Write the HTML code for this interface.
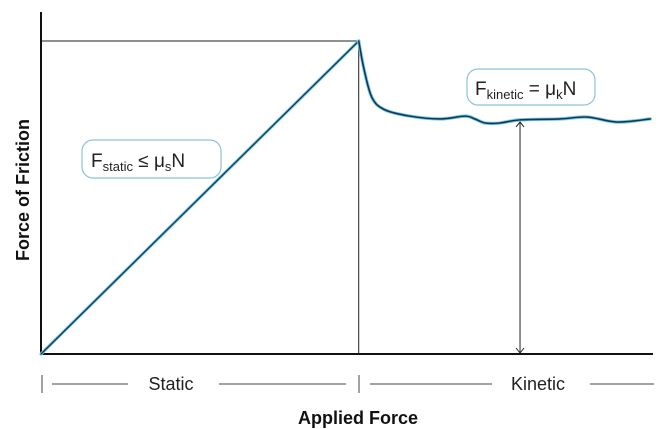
<!DOCTYPE html>
<html><head><meta charset="utf-8"><style>
body{margin:0;background:#fff;}
svg{display:block;font-family:"Liberation Sans",sans-serif;}
</style></head><body>
<svg id="c" width="669" height="429">
<g id="marks"></g>
<text x="29" y="190" transform="rotate(-90 29 190)" text-anchor="middle" font-size="18" font-weight="bold" fill="#111">Force of Friction</text>
<text x="358" y="424" text-anchor="middle" font-size="18" font-weight="bold" fill="#111">Applied Force</text>
<g>
<line x1="42" y1="375" x2="42" y2="393" stroke="#444" stroke-width="1"/>
<line x1="52" y1="384" x2="128" y2="384" stroke="#444"/>
<text x="171" y="390" text-anchor="middle" font-size="18" fill="#222">Static</text>
<line x1="219" y1="384" x2="346" y2="384" stroke="#444"/>
<line x1="359" y1="375" x2="359" y2="393" stroke="#444"/>
</g>
<g>
<line x1="370" y1="384" x2="492" y2="384" stroke="#444"/>
<text x="538" y="390" text-anchor="middle" font-size="18" fill="#222">Kinetic</text>
<line x1="590" y1="384" x2="654" y2="384" stroke="#444"/>
</g>
<g>
<rect x="82" y="140" width="139" height="38" rx="11" fill="#fff" stroke="#8cc4dc" stroke-width="1.2"/>
<text x="91" y="167" font-size="19" fill="#222">F<tspan font-size="13" dy="4">static</tspan><tspan dy="-4"> ≤ μ</tspan><tspan font-size="13" dy="4">s</tspan><tspan dy="-4">N</tspan></text>
</g>
<g>
<rect x="467" y="69" width="128" height="36" rx="11" fill="#fff" stroke="#8cc4dc" stroke-width="1.2"/>
<text x="475" y="95" font-size="19" fill="#222">F<tspan font-size="13" dy="4">kinetic</tspan><tspan dy="-4"> = μ</tspan><tspan font-size="13" dy="4">k</tspan><tspan dy="-4">N</tspan></text>
</g>
</svg>
<script>
const staticX=[0,52];
const staticY=[0,100];
const kineticX=[52,52.9,54.2,56.3,60.4,65.3,69.4,71,72.7,75.1,78.4,84.9,89.4,94.3,99.7];
const kineticY=[100,90.7,81.8,78,76,75.1,76,75.1,73.8,73.8,74.8,75.1,75.7,74.1,75.1];
const arrowX=78.4;
const arrowY=74.8;
const X=v=>41+v*6.11, Y=v=>354-v*3.13;
const g=document.getElementById('marks');
const NS='http://www.w3.org/2000/svg';
function mk(t,a){const e=document.createElementNS(NS,t);for(const k in a)e.setAttribute(k,a[k]);g.appendChild(e);return e;}
let e;
e=mk('line',{x1:X(0),y1:Y(staticY[1]),x2:X(staticX[1]),y2:Y(staticY[1]),stroke:'#222','stroke-width':1});


e=mk('line',{x1:X(staticX[1]),y1:Y(staticY[1]),x2:X(staticX[1]),y2:Y(0),stroke:'#222','stroke-width':1});


e=mk('path',{d:'M41 12 V354 H653',fill:'none',stroke:'#111','stroke-width':2});


e=mk('line',{x1:X(arrowX),y1:Y(arrowY)+2,x2:X(arrowX),y2:Y(0)-1,stroke:'#222','stroke-width':1});


const ax=X(arrowX);
e=mk('path',{d:`M${ax-4} ${Y(arrowY)+7} L${ax} ${Y(arrowY)+2} L${ax+4} ${Y(arrowY)+7} M${ax-4} ${Y(0)-6} L${ax} ${Y(0)-1} L${ax+4} ${Y(0)-6}`,fill:'none',stroke:'#222','stroke-width':1});


function drawStatic(col,w,name){e=mk('line',{x1:X(staticX[0]),y1:Y(staticY[0]),x2:X(staticX[1]),y2:Y(staticY[1]),stroke:col,'stroke-width':w,'stroke-linecap':'round'});

}
drawStatic('#7cc8e4',3.2,'static-friction-glow');
drawStatic('#0f3a55',1.3,'static-friction-line');
const P=kineticX.map((x,i)=>[X(x),Y(kineticY[i])]);
let d='M'+P[0][0]+' '+P[0][1];
for(let i=0;i<P.length-1;i++){const p0=P[Math.max(0,i-1)],p1=P[i],p2=P[i+1],p3=P[Math.min(P.length-1,i+2)];
d+=` C${p1[0]+(p2[0]-p0[0])/6} ${p1[1]+(p2[1]-p0[1])/6} ${p2[0]-(p3[0]-p1[0])/6} ${p2[1]-(p3[1]-p1[1])/6} ${p2[0]} ${p2[1]}`;}
e=mk('path',{d:d,fill:'none',stroke:'#7cc8e4','stroke-width':3.4,'stroke-linecap':'round'});


e=mk('path',{d:d,fill:'none',stroke:'#0f3a55','stroke-width':1.6,'stroke-linecap':'round'});


</script>
</body></html>
